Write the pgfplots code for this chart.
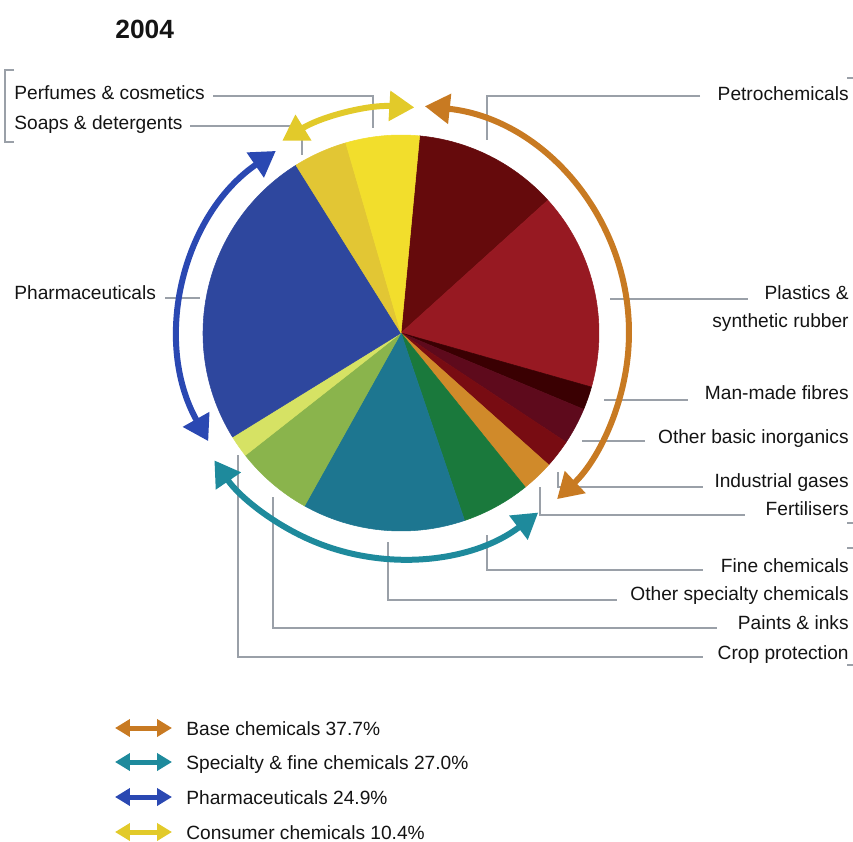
\documentclass[border=0pt]{standalone}
\usepackage{pgfplots}
\pgfplotsset{compat=1.18}
\usepackage{pgfplotstable}
\usepackage{fontspec}
\setmainfont{Liberation Sans}
\usetikzlibrary{arrows.meta}

% slice colours
\definecolor{cPetro}{HTML}{650A0C}
\definecolor{cPlast}{HTML}{971922}
\definecolor{cFibre}{HTML}{3A0002}
\definecolor{cInorg}{HTML}{5E0A1C}
\definecolor{cGas}{HTML}{780C12}
\definecolor{cFert}{HTML}{D08A2A}
\definecolor{cFine}{HTML}{1A793C}
\definecolor{cSpec}{HTML}{1D7690}
\definecolor{cPaint}{HTML}{8AB44C}
\definecolor{cCrop}{HTML}{D6E264}
\definecolor{cPharma}{HTML}{2E479E}
\definecolor{cSoap}{HTML}{E2C634}
\definecolor{cPerf}{HTML}{F2DE2C}
% group arrows
\definecolor{aBase}{HTML}{C87A22}
\definecolor{aSpec}{HTML}{1E8A9C}
\definecolor{aPharma}{HTML}{2A48B2}
\definecolor{aCons}{HTML}{E2CA2A}
\definecolor{lead}{HTML}{9AA0A8}

% share of each sub-sector, %, clockwise from the top
\pgfplotstableread{
value col
11.8 cPetro
16.1 cPlast
1.9  cFibre
3.0  cInorg
2.3  cGas
2.6  cFert
5.6  cFine
13.3 cSpec
6.3  cPaint
1.8  cCrop
24.9 cPharma
4.4  cSoap
6.0  cPerf
}\slices

\tikzset{
  leadline/.style={draw=lead, line width=0.75pt},
  grp/.style={line width=0.12cm,
    {Triangle[length=0.5cm,width=0.58cm]}-{Triangle[length=0.5cm,width=0.58cm]}},
  legarr/.style={line width=0.1cm,
    {Triangle[length=0.3cm,width=0.34cm]}-{Triangle[length=0.3cm,width=0.34cm]}},
  lab/.style={inner sep=0pt, font=\fontsize{10.9}{13}\selectfont, text=black!92},
}

\begin{document}
\begin{tikzpicture}
\begin{axis}[x=0.02cm, y=0.02cm, y dir=reverse,
  xmin=0, xmax=853, ymin=0, ymax=842,
  hide axis, clip=false]

\coordinate (tl) at (axis cs:0,0);
\coordinate (br) at (axis cs:853,842);

% leader lines
\draw[leadline] (axis cs:14,70) -| (axis cs:5,142) -- (axis cs:14,142);
\draw[leadline] (axis cs:213,96) -| (axis cs:373,128);
\draw[leadline] (axis cs:190,126) -| (axis cs:302,155);
\draw[leadline] (axis cs:165,298) -- (axis cs:200,298);
\draw[leadline] (axis cs:700,96) -| (axis cs:487,140);
\draw[leadline] (axis cs:610,299) -- (axis cs:748,299);
\draw[leadline] (axis cs:604,400) -- (axis cs:688,400);
\draw[leadline] (axis cs:582,441) -- (axis cs:645,441);
\draw[leadline] (axis cs:558,472) |- (axis cs:703,487);
\draw[leadline] (axis cs:540,487) |- (axis cs:745,515);
\draw[leadline] (axis cs:487,535) |- (axis cs:703,570);
\draw[leadline] (axis cs:388,542) |- (axis cs:617,600);
\draw[leadline] (axis cs:273,497) |- (axis cs:717,628);
\draw[leadline] (axis cs:238,455) |- (axis cs:703,657);
\draw[leadline] (axis cs:847,78) -- (axis cs:853,78);
\draw[leadline] (axis cs:847,523) -- (axis cs:853,523);
\draw[leadline] (axis cs:847,548) -- (axis cs:853,548);
\draw[leadline] (axis cs:847,665) -- (axis cs:853,665);

% pie slices
\pgfplotsextra{
  \pgfplotstablegetrowsof{\slices}
  \pgfmathtruncatemacro\nrows{\pgfplotsretval-1}
  \xdef\cum{0}
  \foreach \i in {0,...,\nrows}{
    \pgfplotstablegetelem{\i}{value}\of\slices \let\v\pgfplotsretval
    \pgfplotstablegetelem{\i}{col}\of\slices \let\c\pgfplotsretval
    \pgfmathsetmacro\a{84.6-3.6*\cum}
    \pgfmathsetmacro\b{\a-3.6*\v}
    \pgfmathsetmacro\xa{401+198*cos(\a)}
    \pgfmathsetmacro\ya{333-198*sin(\a)}
    \filldraw[fill=\c, draw=\c, line width=0.3pt, line join=round]
      (axis cs:401,333) -- (axis cs:\xa,\ya)
      arc[start angle=\a, end angle=\b, radius=3.96cm] -- cycle;
    \pgfmathsetmacro\n{\cum+\v}\xdef\cum{\n}
  }
}

% group arrows round the pie
\draw[grp, aBase] (axis cs:{401+228*cos(84)},{333-228*sin(84)})
  arc[start angle=84, end angle=-46.8, radius=4.56cm];
\draw[grp, aSpec] (axis cs:{401+226*cos(-52.6)},{333-226*sin(-52.6)})
  arc[start angle=-52.6, end angle=-145.7, radius=4.52cm];
\draw[grp, aPharma] (axis cs:{401+221*cos(209.3)},{333-221*sin(209.3)})
  arc[start angle=209.3, end angle=124.5, radius=4.42cm];
\draw[grp, aCons] (axis cs:{401+226*cos(121.7)},{333-226*sin(121.7)})
  arc[start angle=121.7, end angle=86.6, radius=4.52cm];

% labels
\node[lab, font=\bfseries\fontsize{15}{18}\selectfont, anchor=base west] at (axis cs:115,38) {2004};
\node[lab, anchor=base west] at (axis cs:14,99) {Perfumes \& cosmetics};
\node[lab, anchor=base west] at (axis cs:14,129) {Soaps \& detergents};
\node[lab, anchor=base west] at (axis cs:14,299) {Pharmaceuticals};
\node[lab, anchor=base east] at (axis cs:849,100) {Petrochemicals};
\node[lab, anchor=base east] at (axis cs:849,299) {Plastics \&};
\node[lab, anchor=base east] at (axis cs:849,327) {synthetic rubber};
\node[lab, anchor=base east] at (axis cs:849,399) {Man-made fibres};
\node[lab, anchor=base east] at (axis cs:849,443) {Other basic inorganics};
\node[lab, anchor=base east] at (axis cs:849,487) {Industrial gases};
\node[lab, anchor=base east] at (axis cs:849,515) {Fertilisers};
\node[lab, anchor=base east] at (axis cs:849,572) {Fine chemicals};
\node[lab, anchor=base east] at (axis cs:849,600) {Other specialty chemicals};
\node[lab, anchor=base east] at (axis cs:849,629) {Paints \& inks};
\node[lab, anchor=base east] at (axis cs:849,659) {Crop protection};

% legend
\draw[legarr, aBase] (axis cs:115,728) -- (axis cs:172,728);
\draw[legarr, aSpec] (axis cs:115,762) -- (axis cs:172,762);
\draw[legarr, aPharma] (axis cs:115,797) -- (axis cs:172,797);
\draw[legarr, aCons] (axis cs:115,832) -- (axis cs:172,832);
\node[lab, anchor=base west] at (axis cs:186,735) {Base chemicals 37.7\%};
\node[lab, anchor=base west] at (axis cs:186,769) {Specialty \& fine chemicals 27.0\%};
\node[lab, anchor=base west] at (axis cs:186,804) {Pharmaceuticals 24.9\%};
\node[lab, anchor=base west] at (axis cs:186,839) {Consumer chemicals 10.4\%};
\end{axis}
\pgfresetboundingbox
\path[use as bounding box] (tl) rectangle (br);
\end{tikzpicture}
\end{document}
